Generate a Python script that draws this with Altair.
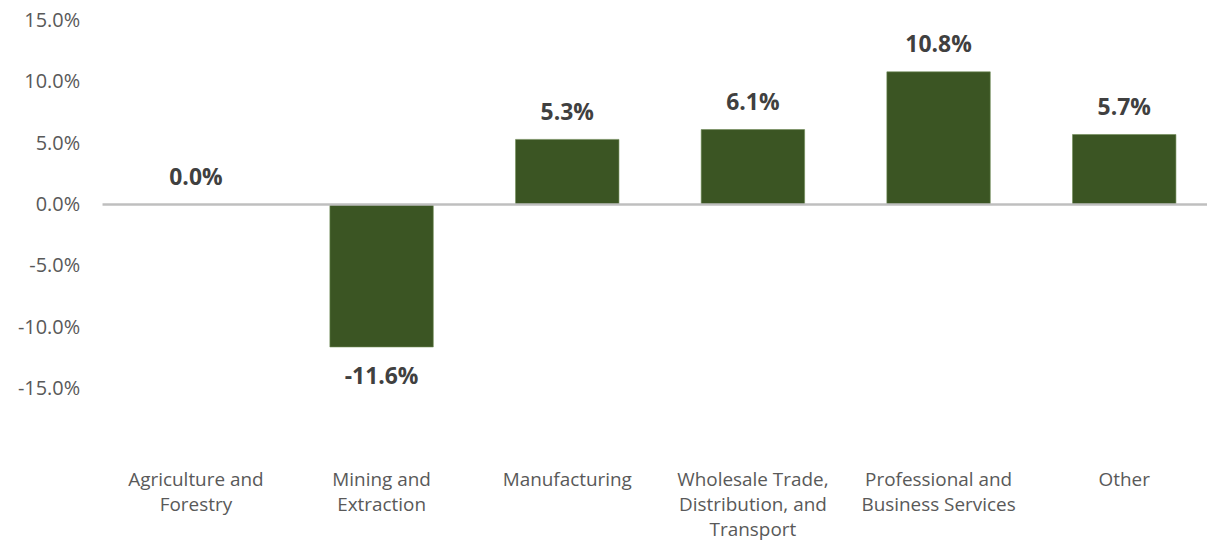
import altair as alt
import pandas as pd

categories = [
    "Agriculture and\nForestry",
    "Mining and\nExtraction",
    "Manufacturing",
    "Wholesale Trade,\nDistribution, and\nTransport",
    "Professional and\nBusiness Services",
    "Other",
]
values = [0.000, -0.116, 0.053, 0.061, 0.108, 0.057]
y_ticks = [-0.15, -0.10, -0.05, 0.0, 0.05, 0.10, 0.15]

df = pd.DataFrame({"category": categories, "value": values})

FONT = "Open Sans"
BAR = "#3B5523"
MINUS = "\u2212"

x_scale = alt.Scale(paddingInner=0.443, paddingOuter=0.196, align=0.573)
x_enc = alt.X(
    "category:N",
    sort=categories,
    title=None,
    scale=x_scale,
    axis=alt.Axis(
        labelAngle=0,
        labelExpr="split(datum.label, '\\n')",
        labelFont=FONT,
        labelFontSize=19,
        labelColor="#595959",
        labelLineHeight=25,
        labelPadding=21,
        labelBaseline="top",
        ticks=False,
        domain=False,
        grid=False,
    ),
)
y_scale = alt.Scale(domain=[-0.20, 0.15], nice=False, zero=False)
y_enc = alt.Y(
    "value:Q",
    scale=y_scale,
    title=None,
    axis=alt.Axis(
        values=y_ticks,
        format=".1%",
        labelExpr=f"replace(datum.label, '{MINUS}', '-')",
        labelFont=FONT,
        labelFontSize=20,
        labelColor="#595959",
        labelPadding=23,
        ticks=False,
        domain=False,
        grid=False,
    ),
)

base = alt.Chart(df).transform_calculate(
    label=f"replace(format(datum.value, '.1%'), '{MINUS}', '-')"
)

bars = base.mark_bar(color=BAR, stroke="#6E8A55", strokeWidth=0.6).encode(x=x_enc, y=y_enc)

zero = alt.Chart(pd.DataFrame({"z": [0.0]})).mark_rule(color="#BFBFBF", strokeWidth=2.5).encode(
    y=alt.Y("z:Q", scale=y_scale)
)

text_style = dict(font=FONT, fontSize=23, fontWeight="bold", color="#404040", baseline="middle")

text_pos = base.transform_filter("datum.value >= 0").mark_text(dy=-27, **text_style).encode(
    x=alt.X("category:N", sort=categories, scale=x_scale),
    y=alt.Y("value:Q", scale=y_scale),
    text="label:N",
)

text_neg = base.transform_filter("datum.value < 0").mark_text(dy=30, **text_style).encode(
    x=alt.X("category:N", sort=categories, scale=x_scale),
    y=alt.Y("value:Q", scale=y_scale),
    text="label:N",
)

chart = (
    alt.layer(bars, zero, text_pos, text_neg)
    .properties(
        width=1110,
        height=432,
        background="white",
        autosize=alt.AutoSizeParams(type="none"),
        padding={"left": 95, "top": 11, "right": 0, "bottom": 90},
    )
    .configure_view(strokeWidth=0, stroke=None)
)

chart.save("out.html", embed_options={"renderer": "svg", "actions": False})
